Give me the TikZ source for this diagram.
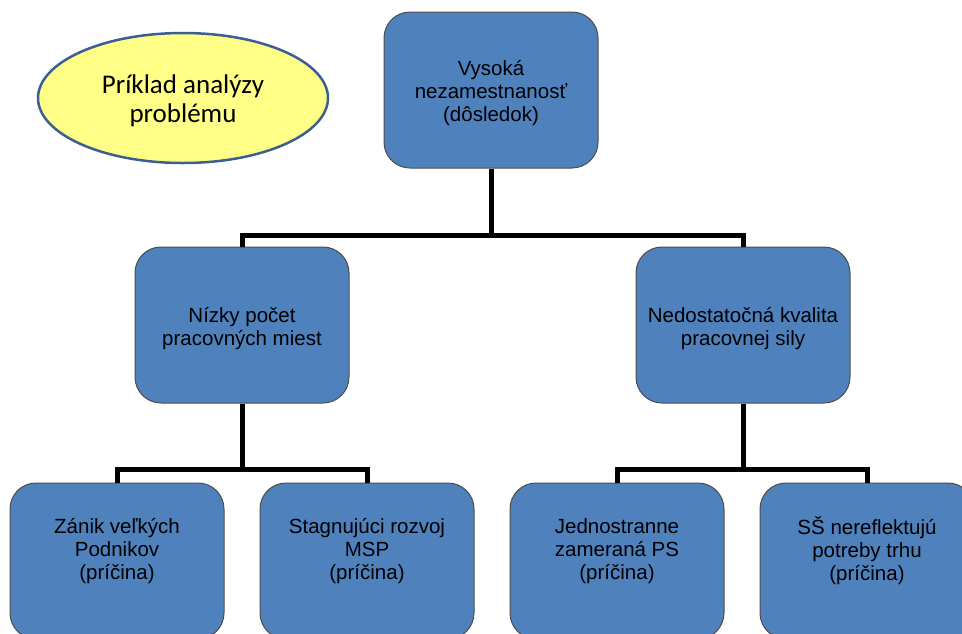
\documentclass[tikz,border=0pt]{standalone}
\usepackage{fontspec}
\setmainfont{Liberation Sans}
\newfontfamily\calibri{Carlito}
\usetikzlibrary{positioning,shapes.geometric}

\definecolor{boxblue}{HTML}{4F81BD}
\definecolor{rimblue}{HTML}{3C5F92}
\definecolor{ovalyellow}{HTML}{FFFF88}

\begin{document}
\begin{tikzpicture}[x=1pt, y=-1pt,
  box/.style={draw=black!70, line width=1pt, fill=boxblue, rounded corners=26pt,
    minimum width=214pt, minimum height=156pt},
  boxtext/.style={align=center, font=\fontsize{20.5}{23}\selectfont},
  link/.style={line width=5pt}]
\useasboundingbox (0,0) rectangle (962,633);
\clip (0,0) rectangle (962,633);
% title oval
\node[ellipse, draw=rimblue, line width=2.5pt, fill=ovalyellow, minimum width=290pt, minimum height=130pt,
  align=center, font=\calibri\fontsize{27}{29}\selectfont] (title) at (183,98) {};
\node[align=center, font=\calibri\fontsize{27}{29}\selectfont] (title-t) at (183,101) {Príklad analýzy\\problému};
% effect and the two main causes
\node[box] (effect) at (491,90) {};
\node[boxtext] (effect-t) at (491,93) {Vysoká\\nezamestnanosť\\(dôsledok)};
\node[box] (jobs) at (242,325) {};
\node[boxtext] (jobs-t) at (242,329) {Nízky počet\\pracovných miest};
\node[box] (skills) at (743,325) {};
\node[boxtext] (skills-t) at (743,329) {Nedostatočná kvalita\\pracovnej sily};
% root causes
\foreach \name/\x/\txt in {zanik/117/{Zánik veľkých\\Podnikov\\(príčina)},
    msp/367/{Stagnujúci rozvoj\\MSP\\(príčina)},
    ps/617/{Jednostranne\\zameraná PS\\(príčina)},
    ss/867/{SŠ nereflektujú\\potreby trhu\\(príčina)}}{
  \node[box] (\name) at (\x,561) {};
  \node[boxtext] (\name-t) at (\x,551) {\txt};
}
\draw[link] (effect.south) -- ++(0,67) -| (jobs.north);
\draw[link] (effect.south) -- ++(0,67) -| (skills.north);
\draw[link] (jobs.south) -- ++(0,66) -| (zanik.north);
\draw[link] (jobs.south) -- ++(0,66) -| (msp.north);
\draw[link] (skills.south) -- ++(0,66) -| (ps.north);
\draw[link] (skills.south) -- ++(0,66) -| (ss.north);
\end{tikzpicture}
\end{document}
